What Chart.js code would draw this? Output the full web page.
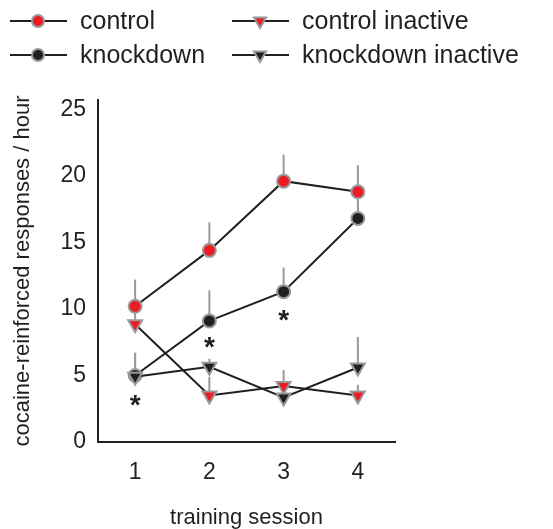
<!DOCTYPE html>
<html>
<head>
<meta charset="utf-8">
<script src="https://cdn.jsdelivr.net/npm/chart.js@4/dist/chart.umd.min.js"></script>
<style>
  html, body { margin: 0; padding: 0; background: #fff; }
  #wrap { width: 553px; height: 529px; }
</style>
</head>
<body>
<div id="wrap"><canvas id="c" width="553" height="529"></canvas></div>
<script>
// --- data ---
const sessions = [1, 2, 3, 4];
const yTicks = [0, 5, 10, 15, 20, 25];

const control = [10.2, 14.4, 19.6, 18.8];
const controlErr = [2.0, 2.1, 2.0, 2.0];
const knockdown = [5.0, 9.1, 11.3, 16.8];
const knockdownErr = [1.7, 2.3, 1.8, 2.0];
const controlInactive = [8.85, 3.5, 4.2, 3.5];
const controlInactiveErr = [1.0, 1.4, 1.2, 0.8];
const knockdownInactive = [4.9, 5.65, 3.35, 5.6];
const knockdownInactiveErr = [1.8, 0.6, 0.5, 2.3];

// significance marks (session, height)
const starX = [1, 2, 3];
const starY = [3.3, 7.7, 9.7];

const RED = '#ed1c24';
const BLACK = '#231f20';
const GREY = '#999999';
const FONT = "'Liberation Sans', Arial, sans-serif";

function series(label, values, errs, fill, style, order) {
    return {
        label,
        order,
        data: values.map((v, i) => ({ x: sessions[i], y: v })),
        errs,
        borderColor: BLACK,
        borderWidth: 2,
        pointStyle: style,
        pointRotation: style === 'triangle' ? 180 : 0,
        pointRadius: style === 'triangle' ? 8 : 6.5,
        pointBackgroundColor: fill,
        pointBorderColor: GREY,
        pointBorderWidth: 2,
        pointHoverRadius: 6.5,
    };
}

// vertical (upward) error bars under the markers
const errorBars = {
    id: 'errorBars',
    beforeDatasetsDraw(chart) {
        const ctx = chart.ctx;
        const ys = chart.scales.y;
        const xs = chart.scales.x;
        ctx.save();
        ctx.strokeStyle = GREY;
        ctx.lineWidth = 2;
        chart.data.datasets.forEach(ds => {
            ds.data.forEach((p, i) => {
                const px = xs.getPixelForValue(p.x);
                ctx.beginPath();
                ctx.moveTo(px, ys.getPixelForValue(p.y));
                ctx.lineTo(px, ys.getPixelForValue(p.y + ds.errs[i]));
                ctx.stroke();
            });
        });
        ctx.restore();
    }
};

// asterisks + the two-column legend at the top
const extras = {
    id: 'extras',
    afterDraw(chart) {
        const ctx = chart.ctx;
        const xs = chart.scales.x, ys = chart.scales.y;
        ctx.save();
        ctx.fillStyle = BLACK;
        ctx.font = 'bold 28px ' + FONT;
        ctx.textAlign = 'center';
        ctx.textBaseline = 'alphabetic';
        starX.forEach((sx, i) => {
            ctx.fillText('*', xs.getPixelForValue(sx), ys.getPixelForValue(starY[i]) + 16);
        });

        const cols = [10, 232];
        const rows = [21, 55];
        const order = [0, 2, 1, 3]; // control, control inactive / knockdown, knockdown inactive
        ctx.font = '25px ' + FONT;
        ctx.textAlign = 'left';
        ctx.textBaseline = 'middle';
        order.forEach((di, k) => {
            const ds = chart.data.datasets[di];
            const x0 = cols[k % 2];
            const y0 = rows[Math.floor(k / 2)];
            ctx.strokeStyle = BLACK;
            ctx.lineWidth = 2;
            ctx.beginPath();
            ctx.moveTo(x0, y0);
            ctx.lineTo(x0 + 57, y0);
            ctx.stroke();
            ctx.fillStyle = ds.pointBackgroundColor;
            ctx.strokeStyle = GREY;
            ctx.lineWidth = 2;
            Chart.helpers.drawPoint(ctx, {
                pointStyle: ds.pointStyle,
                radius: ds.pointStyle === 'triangle' ? 7 : 6,
                rotation: ds.pointRotation,
                borderWidth: 2
            }, x0 + 28, y0);
            ctx.fillStyle = BLACK;
            ctx.fillText(ds.label, x0 + 70, y0 + 1);
        });
        ctx.restore();
    }
};

new Chart(document.getElementById('c'), {
    type: 'line',
    data: {
        datasets: [
            series('control', control, controlErr, RED, 'circle', 1),
            series('knockdown', knockdown, knockdownErr, BLACK, 'circle', 2),
            series('control inactive', controlInactive, controlInactiveErr, RED, 'triangle', 1),
            series('knockdown inactive', knockdownInactive, knockdownInactiveErr, BLACK, 'triangle', 0),
        ]
    },
    options: {
        responsive: false,
        animation: false,
        layout: { padding: { top: 100, right: 158, left: 0, bottom: 0 } },
        scales: {
            x: {
                type: 'linear',
                min: 0.5, max: 4.5,
                afterBuildTicks: s => { s.ticks = sessions.map(v => ({ value: v })); },
                afterFit: s => { s.height = 87; },
                grid: { display: false, drawTicks: false },
                border: { display: true, color: BLACK, width: 2 },
                ticks: { color: BLACK, padding: 17, font: { family: FONT, size: 23 } },
                title: {
                    display: true, text: 'training session', color: BLACK,
                    font: { family: FONT, size: 22, lineHeight: 1 },
                    padding: { top: 0, bottom: 0 }
                }
            },
            y: {
                min: 0, max: 25.7,
                afterBuildTicks: s => { s.ticks = yTicks.map(v => ({ value: v })); },
                afterFit: s => { s.width = 98; },
                grid: { display: false, drawTicks: false },
                border: { display: true, color: BLACK, width: 2 },
                ticks: { color: BLACK, padding: 12, font: { family: FONT, size: 23 } },
                title: {
                    display: true, text: 'cocaine-reinforced responses / hour', color: BLACK,
                    font: { family: FONT, size: 22, lineHeight: 1 },
                    padding: { top: 12, bottom: 0 }
                }
            }
        },
        plugins: {
            legend: { display: false },
            tooltip: { enabled: false }
        }
    },
    plugins: [errorBars, extras]
});
</script>
</body>
</html>
